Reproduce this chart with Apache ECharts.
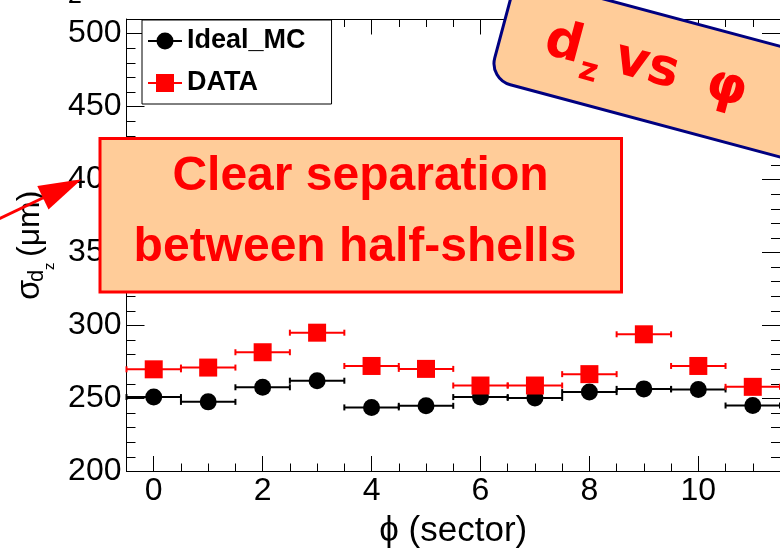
<!DOCTYPE html>
<html>
<head>
<meta charset="utf-8">
<script src="https://cdn.jsdelivr.net/npm/echarts@6/dist/echarts.min.js"></script>
<style>
  html, body { margin: 0; padding: 0; background: #fff; }
  #chart { width: 780px; height: 554px; }
</style>
</head>
<body>
<div id="chart"></div>
<script>
// Impact-parameter resolution sigma(d_z) per phi sector
const sectors = [0, 1, 2, 3, 4, 5, 6, 7, 8, 9, 10, 11];
const idealMC = [251.0, 247.7, 257.7, 262.2, 243.9, 245.0, 251.0, 250.4, 254.4, 256.6, 256.2, 245.2];
const dataValues = [270.0, 271.2, 281.7, 295.1, 272.3, 270.3, 258.9, 258.9, 266.7, 294.0, 272.3, 258.0];
const sectorHalfWidth = 0.5;

const xTickLabels = [0, 2, 4, 6, 8, 10];
const yTickLabels = [200, 250, 300, 350, 400, 450, 500];

const X_MIN = -0.5, X_MAX = 11.5;
const Y_MIN = 200, Y_MAX = 510;

const FONT = '"Liberation Sans", Arial, Helvetica, sans-serif';
const PEACH = '#FFCC99';
const TOP_Z = 50;

// minor tick positions
const xMinor = [];
for (let v = 0; v <= 11; v += 0.5) xMinor.push(v);
const yMinor = [];
for (let v = 200; v <= 500; v += 10) yMinor.push(v);

// place text by its alphabetic baseline (canvas 'middle' sits ~0.3465em above it)
function baselineText(x, baseline, str, size, opts) {
  return {
    type: 'text',
    x: x,
    y: baseline - 0.3465 * size,
    z: TOP_Z,
    zlevel: 1,
    style: Object.assign({
      text: str,
      fontSize: size,
      fontFamily: FONT,
      fill: '#000',
      align: 'left',
      verticalAlign: 'middle'
    }, opts || {})
  };
}

function layered(el) {
  return Object.assign({ z: TOP_Z, zlevel: 1 }, el);
}

function errorBarSeries(name, values, color, marker) {
  return {
    type: 'custom',
    name: name,
    xAxisIndex: 0,
    yAxisIndex: 0,
    itemStyle: { color: color },
    encode: { x: 0, y: 1 },
    data: sectors.map((s, i) => [s, values[i]]),
    renderItem: function (params, api) {
      const x = api.value(0), y = api.value(1);
      const c = api.coord([x, y]);
      const l = api.coord([x - sectorHalfWidth, y]);
      const r = api.coord([x + sectorHalfWidth, y]);
      const stroke = { stroke: color, lineWidth: 2 };
      const children = [
        { type: 'line', shape: { x1: l[0], y1: c[1], x2: r[0], y2: c[1] }, style: stroke },
        { type: 'line', shape: { x1: l[0], y1: c[1] - 3, x2: l[0], y2: c[1] + 3 }, style: stroke },
        { type: 'line', shape: { x1: r[0], y1: c[1] - 3, x2: r[0], y2: c[1] + 3 }, style: stroke }
      ];
      if (marker === 'circle') {
        children.push({ type: 'circle', shape: { cx: c[0], cy: c[1], r: 8.5 }, style: { fill: color } });
      } else {
        children.push({ type: 'rect', shape: { x: c[0] - 9, y: c[1] - 9, width: 18, height: 18 }, style: { fill: color } });
      }
      return { type: 'group', children: children };
    }
  };
}

function frameAxis(pos, extra) {
  const isX = pos === 'top' || pos === 'bottom';
  return Object.assign({
    type: 'value',
    position: pos,
    min: isX ? X_MIN : Y_MIN,
    max: isX ? X_MAX : Y_MAX,
    axisLine: { show: false, onZero: false, lineStyle: { color: '#000', width: 1 } },
    axisTick: { show: false },
    axisLabel: { show: false },
    splitLine: { show: false }
  }, extra);
}

function ticks(values, len) {
  return { show: true, inside: true, length: len, customValues: values, lineStyle: { color: '#000', width: 1 } };
}

const chart = echarts.init(document.getElementById('chart'), null, { renderer: 'canvas' });

// icon paths: error line with the marker on it (34 x 18 box)
const circleIcon = 'path://M0,8 L34,8 L34,10 L0,10 Z M8.5,9 A8.5,8.5 0 1,1 25.5,9 A8.5,8.5 0 1,1 8.5,9 Z';
const squareIcon = 'path://M0,8 L34,8 L34,10 L0,10 Z M8,0 L26,0 L26,18 L8,18 Z';

const tiltedFont = { fill: '#FF0000', fontWeight: 'bold', fontFamily: '"DejaVu Sans", sans-serif' };

chart.setOption({
  animation: false,
  backgroundColor: '#fff',
  textStyle: { fontFamily: FONT },
  grid: { left: 126.5, top: 19, right: -13.3, bottom: 72.5, containLabel: false },
  xAxis: [
    frameAxis('bottom', {
      axisLine: { show: true, onZero: false, lineStyle: { color: '#000', width: 1 } },
      axisTick: ticks(xTickLabels, 15.5),
      axisLabel: { show: true, customValues: xTickLabels, fontSize: 32, color: '#000', margin: 4, fontFamily: FONT },
      name: 'ϕ (sector)',
      nameLocation: 'middle',
      nameGap: 60,
      nameTextStyle: { fontSize: 35, color: '#000', fontFamily: FONT, verticalAlign: 'middle' }
    }),
    frameAxis('bottom', { axisTick: ticks(xMinor, 8) }),
    frameAxis('top', {
      axisLine: { show: true, onZero: false, lineStyle: { color: '#000', width: 1 } },
      axisTick: ticks(xTickLabels, 15.5)
    }),
    frameAxis('top', { axisTick: ticks(xMinor, 8) })
  ],
  yAxis: [
    frameAxis('left', {
      axisLine: { show: true, onZero: false, lineStyle: { color: '#000', width: 1 } },
      axisTick: ticks(yTickLabels, 18),
      axisLabel: { show: true, customValues: yTickLabels, fontSize: 32, color: '#000', margin: 5, fontFamily: FONT }
    }),
    frameAxis('left', { axisTick: ticks(yMinor, 9) }),
    frameAxis('right', {
      axisLine: { show: true, onZero: false, lineStyle: { color: '#000', width: 1 } },
      axisTick: ticks(yTickLabels, 18)
    }),
    frameAxis('right', { axisTick: ticks(yMinor, 9) })
  ],
  legend: {
    orient: 'vertical',
    left: 142,
    top: 20,
    padding: [6, 26, 6, 6],
    itemGap: 12,
    itemWidth: 34,
    itemHeight: 18,
    selectedMode: false,
    backgroundColor: '#fff',
    borderColor: '#000',
    borderWidth: 1,
    borderRadius: 0,
    itemStyle: { borderWidth: 0 },
    textStyle: { fontSize: 27, fontWeight: 'bold', color: '#000', fontFamily: FONT, lineHeight: 30 },
    data: [
      { name: 'Ideal_MC', icon: circleIcon },
      { name: 'DATA', icon: squareIcon }
    ]
  },
  series: [
    errorBarSeries('Ideal_MC', idealMC, '#000000', 'circle'),
    errorBarSeries('DATA', dataValues, '#FF0000', 'square')
  ],
  graphic: [
    // y-axis title: sigma_{d_z} (um), read bottom to top
    layered({
      type: 'group',
      x: 41, y: 300,
      rotation: Math.PI / 2,
      children: [
        baselineText(0, 0, 'σ', 33),
        baselineText(18, 4, 'd', 22),
        baselineText(30, 14, 'z', 15),
        baselineText(43, 0, '(μm)', 32)
      ]
    }),
    // clipped glyph along the top edge
    baselineText(68, 5, 'z', 28),
    // red arrow pointing at the axis
    layered({
      type: 'group',
      children: [
        layered({ type: 'line', shape: { x1: -20, y1: 227.9, x2: 48, y2: 195.5 }, style: { stroke: '#FF0000', lineWidth: 3 } }),
        layered({ type: 'polygon', shape: { points: [[81.7, 179.3], [48.5, 209.5], [37.3, 186.1]] }, style: { fill: '#FF0000' } })
      ]
    }),
    // annotation box
    layered({
      type: 'group',
      children: [
        layered({ type: 'rect', shape: { x: 100, y: 138.5, width: 521.5, height: 153.5 }, style: { fill: PEACH, stroke: '#FF0000', lineWidth: 3 } }),
        baselineText(360.5, 193.7, 'Clear separation', 48, { fill: '#FF0000', fontWeight: 'bold', align: 'center' }),
        baselineText(355, 264, 'between half-shells', 48, { fill: '#FF0000', fontWeight: 'bold', align: 'center' })
      ]
    }),
    // tilted title box
    layered({
      type: 'group',
      x: 515.7, y: -26.1,
      rotation: -15 * Math.PI / 180,
      children: [
        layered({ type: 'rect', shape: { x: 1.5, y: 1.5, width: 330, height: 107, r: 22 }, style: { fill: PEACH, stroke: '#000080', lineWidth: 3 } }),
        baselineText(46, 74, 'd', 52, tiltedFont),
        baselineText(86, 87, 'z', 32, tiltedFont),
        baselineText(118, 74, 'vs', 52, tiltedFont),
        baselineText(213, 74, 'φ', 52, tiltedFont)
      ]
    })
  ]
});
</script>
</body>
</html>
